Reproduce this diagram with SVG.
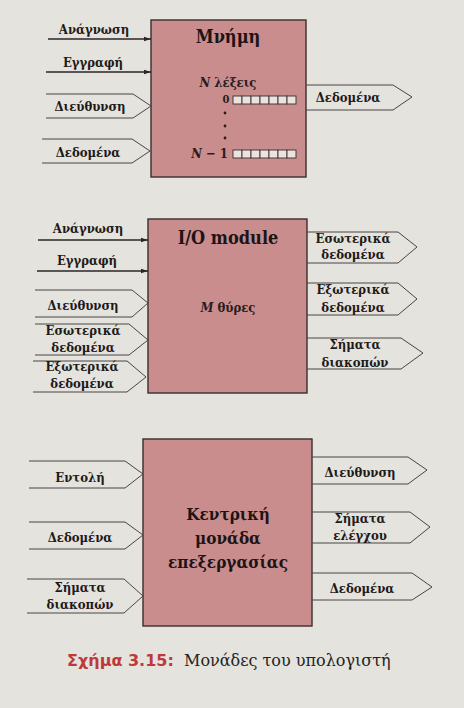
<svg xmlns="http://www.w3.org/2000/svg" width="464" height="708" viewBox="0 0 464 708">
  <defs>
    <style>
      .bg { fill: #e5e3dd; }
      .box { fill: #c98d8e; stroke: #3a2e2d; stroke-width: 1.4; }
      .bus { fill: none; stroke: #4a4444; stroke-width: 1; }
      .sig { fill: none; stroke: #2a2626; stroke-width: 1.4; }
      .lbl { font-family: "DejaVu Serif Condensed", "DejaVu Serif", serif; font-weight: bold; font-size: 13px; fill: #1e1a1a; text-anchor: middle; }
      .title { font-family: "DejaVu Serif Condensed", "DejaVu Serif", serif; font-weight: bold; font-size: 18px; fill: #1e1414; text-anchor: middle; }
      .cpu { font-size: 17px; }
      .inner { font-family: "DejaVu Serif Condensed", "DejaVu Serif", serif; font-weight: bold; font-size: 13px; fill: #2a1c1c; text-anchor: middle; }
      .cell { fill: #ece2de; stroke: #3a2e2d; stroke-width: 0.9; }
      .cap1 { font-family: "DejaVu Sans", sans-serif; font-weight: bold; font-size: 16px; fill: #c0393a; }
      .cap2 { font-family: "DejaVu Serif", serif; font-size: 16px; fill: #222; }
    </style>
    <marker id="arr" viewBox="0 0 10 10" refX="10" refY="5" markerWidth="8" markerHeight="7" markerUnits="userSpaceOnUse" orient="auto">
      <path d="M0,1.8 L10,5 L0,8.2 Z" fill="#2a2626"/>
    </marker>
  </defs>

  <rect class="bg" x="0" y="0" width="464" height="708"/>

  <!-- Nodes -->
  <g id="memory">
    <rect class="box" x="151" y="20" width="155" height="157"/>
    <text class="title" x="228" y="43">Μνήμη</text>
    <text class="inner" x="228" y="87"><tspan font-style="italic">N</tspan> λέξεις</text>
    <text class="inner" x="226" y="103" style="font-size:11px">0</text>
    <g>
      <rect class="cell" x="233" y="96" width="9" height="8"/>
      <rect class="cell" x="242" y="96" width="9" height="8"/>
      <rect class="cell" x="251" y="96" width="9" height="8"/>
      <rect class="cell" x="260" y="96" width="9" height="8"/>
      <rect class="cell" x="269" y="96" width="9" height="8"/>
      <rect class="cell" x="278" y="96" width="9" height="8"/>
      <rect class="cell" x="287" y="96" width="9" height="8"/>
    </g>
    <circle cx="225" cy="113" r="1.4" fill="#2a1c1c"/>
    <circle cx="225" cy="126" r="1.4" fill="#2a1c1c"/>
    <circle cx="225" cy="138" r="1.4" fill="#2a1c1c"/>
    <text class="inner" x="228" y="158" style="text-anchor:end"><tspan font-style="italic">N</tspan> − 1</text>
    <g>
      <rect class="cell" x="233" y="150" width="9" height="8"/>
      <rect class="cell" x="242" y="150" width="9" height="8"/>
      <rect class="cell" x="251" y="150" width="9" height="8"/>
      <rect class="cell" x="260" y="150" width="9" height="8"/>
      <rect class="cell" x="269" y="150" width="9" height="8"/>
      <rect class="cell" x="278" y="150" width="9" height="8"/>
      <rect class="cell" x="287" y="150" width="9" height="8"/>
    </g>
  </g>

  <g id="io-module">
    <rect class="box" x="148" y="219" width="159" height="174"/>
    <text class="title" x="228" y="244">I/O module</text>
    <text class="inner" x="228" y="312"><tspan font-style="italic">M</tspan> θύρες</text>
  </g>

  <g id="cpu">
    <rect class="box" x="143" y="439" width="169" height="187"/>
    <text class="title cpu" x="228" y="520">Κεντρική</text>
    <text class="title cpu" x="228" y="544">μονάδα</text>
    <text class="title cpu" x="228" y="568">επεξεργασίας</text>
  </g>

  <!-- Connectors -->
  <g id="connectors">
    <!-- Memory -->
    <line class="sig" x1="48" y1="39" x2="151" y2="39" marker-end="url(#arr)"/>
    <line class="sig" x1="46" y1="72" x2="151" y2="72" marker-end="url(#arr)"/>
    <path class="bus" d="M46,94 H133 L151,106 L133,118 H46"/>
    <path class="bus" d="M42,139 H132 L150,151 L132,163 H42"/>
    <path class="bus" d="M306,85 H393 L412,97 L393,110 H306"/>
    <!-- I/O -->
    <line class="sig" x1="38" y1="240" x2="148" y2="240" marker-end="url(#arr)"/>
    <line class="sig" x1="37" y1="271" x2="148" y2="271" marker-end="url(#arr)"/>
    <path class="bus" d="M35,290 H132 L148,303 L132,317 H35"/>
    <path class="bus" d="M35,324 H129 L148,340 L129,355 H35"/>
    <path class="bus" d="M33,361 H127 L146,377 L127,392 H33"/>
    <path class="bus" d="M307,232 H398 L417,247 L398,263 H307"/>
    <path class="bus" d="M307,283 H398 L417,299 L398,315 H307"/>
    <path class="bus" d="M307,338 H401 L423,353 L401,369 H307"/>
    <!-- CPU -->
    <path class="bus" d="M29,461 H125 L143,474 L125,488 H29"/>
    <path class="bus" d="M29,522 H125 L143,535 L125,549 H29"/>
    <path class="bus" d="M27,579 H124 L143,596 L124,613 H27"/>
    <path class="bus" d="M312,457 H408 L427,470 L408,484 H312"/>
    <path class="bus" d="M312,512 H410 L430,527 L410,543 H312"/>
    <path class="bus" d="M312,573 H412 L432,587 L412,600 H312"/>
  </g>

  <!-- Connector labels -->
  <g id="labels">
    <text class="lbl" x="94" y="34">Ανάγνωση</text>
    <text class="lbl" x="93" y="67">Εγγραφή</text>
    <text class="lbl" x="90" y="111">Διεύθυνση</text>
    <text class="lbl" x="88" y="157">Δεδομένα</text>
    <text class="lbl" x="348" y="102">Δεδομένα</text>

    <text class="lbl" x="88" y="233">Ανάγνωση</text>
    <text class="lbl" x="87" y="265">Εγγραφή</text>
    <text class="lbl" x="83" y="310">Διεύθυνση</text>
    <text class="lbl" x="83" y="335">Εσωτερικά</text>
    <text class="lbl" x="83" y="352">δεδομένα</text>
    <text class="lbl" x="82" y="371">Εξωτερικά</text>
    <text class="lbl" x="82" y="388">δεδομένα</text>
    <text class="lbl" x="353" y="243">Εσωτερικά</text>
    <text class="lbl" x="353" y="259">δεδομένα</text>
    <text class="lbl" x="353" y="294">Εξωτερικά</text>
    <text class="lbl" x="353" y="312">δεδομένα</text>
    <text class="lbl" x="355" y="349">Σήματα</text>
    <text class="lbl" x="355" y="367">διακοπών</text>

    <text class="lbl" x="80" y="482">Εντολή</text>
    <text class="lbl" x="80" y="542">Δεδομένα</text>
    <text class="lbl" x="80" y="592">Σήματα</text>
    <text class="lbl" x="80" y="609">διακοπών</text>
    <text class="lbl" x="360" y="477">Διεύθυνση</text>
    <text class="lbl" x="360" y="523">Σήματα</text>
    <text class="lbl" x="360" y="540">ελέγχου</text>
    <text class="lbl" x="362" y="593">Δεδομένα</text>
  </g>

  <g id="caption">
    <text class="cap1" x="67" y="666">Σχήμα 3.15:</text>
    <text class="cap2" x="184" y="666">Μονάδες του υπολογιστή</text>
  </g>
</svg>
